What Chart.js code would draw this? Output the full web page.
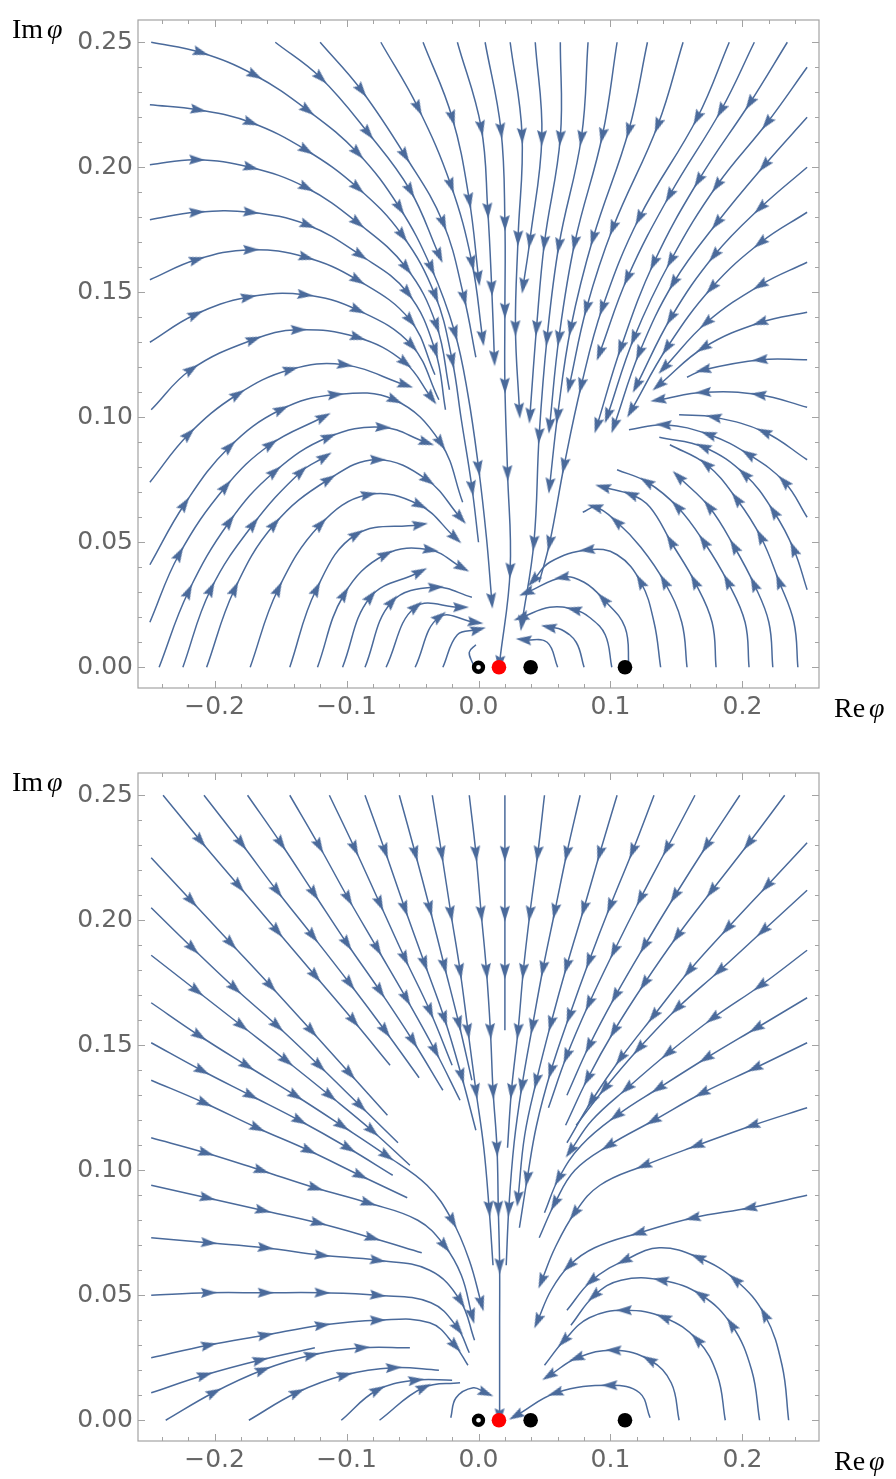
<!DOCTYPE html>
<html>
<head>
<meta charset="utf-8">
<script src="https://cdn.jsdelivr.net/npm/chart.js@4.4.1/dist/chart.umd.min.js"></script>
<style>
  html, body { margin: 0; padding: 0; background: #fff; }
  body { width: 896px; height: 1479px; position: relative; overflow: hidden; }
  canvas { position: absolute; left: 0; }
</style>
</head>
<body>
<canvas id="topChart" width="896" height="740" style="top:0"></canvas>
<canvas id="bottomChart" width="896" height="740" style="top:753px"></canvas>
<script>
// ---- axis ticks ----
const xMajor = [-0.2, -0.1, 0, 0.1, 0.2];
const xMinor = [-0.24, -0.22, -0.18, -0.16, -0.14, -0.12, -0.08, -0.06, -0.04, -0.02,
                0.02, 0.04, 0.06, 0.08, 0.12, 0.14, 0.16, 0.18, 0.22, 0.24];
const yMajor = [0, 0.05, 0.1, 0.15, 0.2, 0.25];
const yMinor = [0.01, 0.02, 0.03, 0.04, 0.06, 0.07, 0.08, 0.09, 0.11, 0.12, 0.13, 0.14,
                0.16, 0.17, 0.18, 0.19, 0.21, 0.22, 0.23, 0.24];

// ---- critical points on the real axis ----
const markerRe = [0, 0.0155, 0.0395, 0.111];
const markerIm = [0, 0, 0, 0];
const markerKind = ['open', 'red', 'black', 'black'];

// ---- top panel streamlines [Re φ, Im φ], in flow order ----
const topLines = [
  [[-0.248,0.250],[-0.211,0.246],[-0.170,0.237],[-0.130,0.223],[-0.092,0.206],[-0.060,0.184],[-0.036,0.160],[-0.018,0.134],[-0.008,0.109],[0.000,0.080],[0.006,0.052],[0.010,0.027]],
  [[-0.249,0.225],[-0.213,0.223],[-0.173,0.218],[-0.131,0.207],[-0.092,0.192],[-0.058,0.173],[-0.033,0.149],[-0.020,0.123],[-0.013,0.099],[-0.005,0.072],[0.000,0.050]],
  [[-0.249,0.201],[-0.214,0.203],[-0.173,0.200],[-0.131,0.192],[-0.092,0.178],[-0.055,0.160],[-0.032,0.137],[-0.022,0.111]],
  [[-0.249,0.179],[-0.214,0.182],[-0.173,0.182],[-0.130,0.177],[-0.090,0.165],[-0.054,0.150],[-0.033,0.127],[-0.025,0.103]],
  [[-0.249,0.155],[-0.214,0.163],[-0.173,0.167],[-0.131,0.164],[-0.092,0.155],[-0.052,0.139],[-0.033,0.117]],
  [[-0.249,0.130],[-0.215,0.141],[-0.175,0.148],[-0.132,0.149],[-0.092,0.143],[-0.051,0.129],[-0.030,0.107]],
  [[-0.248,0.103],[-0.218,0.119],[-0.171,0.131],[-0.137,0.135],[-0.092,0.132],[-0.056,0.122],[-0.036,0.108]],
  [[-0.249,0.074],[-0.220,0.093],[-0.183,0.109],[-0.143,0.119],[-0.102,0.121],[-0.056,0.113]],
  [[-0.249,0.041],[-0.223,0.065],[-0.189,0.088],[-0.150,0.103],[-0.109,0.109],[-0.064,0.107],[-0.029,0.090],[-0.012,0.066]],
  [[-0.249,0.018],[-0.227,0.045],[-0.192,0.072],[-0.158,0.089],[-0.118,0.100]],
  [[-0.242,0.000],[-0.220,0.030],[-0.189,0.058],[-0.155,0.078],[-0.114,0.092],[-0.073,0.096],[-0.040,0.090]],
  [[-0.224,0.000],[-0.203,0.031],[-0.171,0.057],[-0.135,0.078],[-0.117,0.084]],
  [[-0.206,0.000],[-0.185,0.031],[-0.155,0.057],[-0.114,0.075],[-0.077,0.083],[-0.039,0.075],[-0.014,0.060]],
  [[-0.173,0.000],[-0.152,0.031],[-0.120,0.057],[-0.084,0.069],[-0.045,0.065],[-0.018,0.052]],
  [[-0.143,0.000],[-0.123,0.031],[-0.093,0.053],[-0.045,0.057]],
  [[-0.122,0.000],[-0.102,0.029],[-0.071,0.045],[-0.037,0.047],[-0.013,0.040]],
  [[-0.103,0.000],[-0.082,0.028],[-0.045,0.038]],
  [[-0.086,0.000],[-0.066,0.026],[-0.033,0.032],[-0.005,0.028]],
  [[-0.070,0.000],[-0.048,0.024],[-0.014,0.024]],
  [[-0.048,0.000],[-0.030,0.020],[-0.003,0.018]],
  [[-0.027,0.000],[-0.016,0.013],[-0.001,0.015]],
  [[-0.004,0.001],[-0.007,0.006],[-0.002,0.009]],
  [[-0.154,0.250],[-0.120,0.236],[-0.084,0.214],[-0.052,0.191],[-0.030,0.165]],
  [[-0.120,0.250],[-0.089,0.231],[-0.056,0.205],[-0.027,0.178],[-0.011,0.148],[-0.002,0.124]],
  [[-0.074,0.250],[-0.046,0.224],[-0.021,0.193],[-0.005,0.162],[0.003,0.132]],
  [[-0.042,0.250],[-0.020,0.220],[-0.007,0.187],[0.000,0.156]],
  [[-0.016,0.250],[0.002,0.216],[0.007,0.183],[0.010,0.152],[0.012,0.124]],
  [[0.005,0.250],[0.017,0.215],[0.020,0.178],[0.020,0.143],[0.020,0.113],[0.022,0.078],[0.024,0.039],[0.016,0.002]],
  [[0.024,0.250],[0.033,0.213],[0.030,0.172],[0.028,0.136],[0.031,0.103]],
  [[0.043,0.250],[0.048,0.212],[0.039,0.171],[0.034,0.153]],
  [[0.062,0.250],[0.062,0.212],[0.050,0.170],[0.044,0.136],[0.039,0.101]],
  [[0.083,0.250],[0.078,0.212],[0.061,0.169],[0.052,0.132],[0.046,0.093],[0.042,0.050],[0.033,0.018]],
  [[0.105,0.250],[0.094,0.213],[0.073,0.170],[0.061,0.132],[0.054,0.097]],
  [[0.128,0.250],[0.114,0.215],[0.087,0.172],[0.070,0.136],[0.060,0.101],[0.054,0.073]],
  [[0.155,0.250],[0.136,0.217],[0.102,0.176],[0.082,0.144],[0.069,0.113]],
  [[0.190,0.250],[0.166,0.220],[0.122,0.180],[0.094,0.144],[0.078,0.113],[0.065,0.081],[0.054,0.050],[0.046,0.034]],
  [[0.209,0.250],[0.184,0.223],[0.145,0.189],[0.113,0.156],[0.092,0.126]],
  [[0.234,0.250],[0.206,0.226],[0.167,0.195],[0.133,0.162],[0.108,0.128],[0.090,0.097]],
  [[0.249,0.240],[0.219,0.218],[0.181,0.193],[0.146,0.163],[0.118,0.132],[0.098,0.101]],
  [[0.249,0.220],[0.217,0.201],[0.181,0.178],[0.148,0.154],[0.122,0.126],[0.103,0.097]],
  [[0.249,0.200],[0.214,0.184],[0.179,0.165],[0.146,0.140],[0.120,0.113]],
  [[0.249,0.182],[0.214,0.170],[0.177,0.152],[0.143,0.128],[0.116,0.103]],
  [[0.249,0.162],[0.214,0.153],[0.173,0.138],[0.141,0.120]],
  [[0.249,0.142],[0.214,0.138],[0.171,0.128],[0.137,0.113]],
  [[0.249,0.123],[0.214,0.123],[0.171,0.119],[0.158,0.116]],
  [[0.249,0.104],[0.213,0.109],[0.171,0.110],[0.137,0.107]],
  [[0.249,0.083],[0.217,0.094],[0.179,0.100],[0.152,0.101]],
  [[0.249,0.060],[0.232,0.074],[0.205,0.085],[0.175,0.093],[0.141,0.097],[0.114,0.095]],
  [[0.249,0.031],[0.239,0.047],[0.224,0.062],[0.202,0.077],[0.171,0.088],[0.137,0.092]],
  [[0.242,0.000],[0.239,0.018],[0.228,0.034],[0.214,0.052],[0.196,0.067],[0.173,0.081],[0.145,0.089]],
  [[0.223,0.000],[0.220,0.018],[0.209,0.033],[0.194,0.048],[0.175,0.064],[0.152,0.076]],
  [[0.205,0.000],[0.202,0.018],[0.189,0.034],[0.171,0.050],[0.151,0.064],[0.128,0.074],[0.105,0.079]],
  [[0.180,0.000],[0.177,0.018],[0.164,0.034],[0.146,0.050],[0.130,0.064],[0.116,0.069],[0.095,0.072]],
  [[0.158,0.000],[0.154,0.018],[0.141,0.034],[0.123,0.048],[0.105,0.058],[0.089,0.064],[0.079,0.062]],
  [[0.138,0.000],[0.133,0.018],[0.123,0.034],[0.105,0.045],[0.083,0.047],[0.054,0.042],[0.042,0.035]],
  [[0.114,0.000],[0.111,0.016],[0.095,0.027],[0.080,0.034],[0.064,0.036],[0.037,0.030]],
  [[0.101,0.000],[0.096,0.013],[0.084,0.020],[0.073,0.023],[0.054,0.024],[0.033,0.020]],
  [[0.080,0.000],[0.074,0.010],[0.063,0.015],[0.054,0.016]],
  [[0.060,0.000],[0.052,0.010],[0.035,0.011]]
];
const topArrows = [
  [1,2,3,4,5,6,7,9,11],[1,2,3,4,5,6,7,9],[1,2,3,4,5,6],[1,2,3,4,5,6],[1,2,3,4,5],[1,2,3,4,5],[1,2,3,4,5,6],[1,2,3,4,5],
  [1,2,3,4,5,6],[1,2,3,4],[1,2,3,4,5,6],[1,2,3,4],[1,2,3,4,5,6],[1,2,3,4,5],[1,2,3],[1,2,3,4],[1,2],[1,2],[1,2],[1,2],[2],[],
  [1,2,3,4],[1,2,3,4],[1,2,3,4],[1,2,3],[1,2,3,4],[1,2,3,4,5,6,7],[1,2,3,4],[1,2,3],[1,2,3,4],[1,2,3,4,5,6],[1,2,3,4],
  [1,2,3,4,5],[1,2,3,4],[1,2,3,4,5,6],[1,2,3,4],[1,2,3,4,5],
  [1,2,3,4,5],[1,2,3,4,5],[1,2,3,4],[1,2,3,4],[1,2,3],[1,2,3],
  [1,2],[1,2,3],[1,2],[1,2,3,4],[1,2,3,4],
  [2,3,4,5],[2,3,4,5],[2,3,4,5],[2,3,5,6],[2,4,5],[2,4,6],[2,4,5],[3,5],[3],[2]
];

// ---- bottom panel streamlines ----
const bottomLines = [
  [[-0.239,0.250],[-0.211,0.232],[-0.182,0.214],[-0.153,0.196],[-0.124,0.178],[-0.095,0.160],[-0.067,0.142]],
  [[-0.208,0.250],[-0.180,0.231],[-0.153,0.212],[-0.126,0.194],[-0.098,0.175],[-0.071,0.156],[-0.045,0.137]],
  [[-0.175,0.250],[-0.150,0.231],[-0.125,0.211],[-0.100,0.191],[-0.075,0.172],[-0.050,0.152],[-0.027,0.132]],
  [[-0.143,0.250],[-0.121,0.230],[-0.099,0.209],[-0.077,0.189],[-0.055,0.169],[-0.033,0.148],[-0.014,0.128]],
  [[-0.113,0.250],[-0.094,0.229],[-0.075,0.207],[-0.056,0.185],[-0.037,0.164],[-0.020,0.142]],
  [[-0.086,0.250],[-0.071,0.228],[-0.056,0.205],[-0.041,0.183],[-0.026,0.161],[-0.013,0.138],[-0.002,0.116]],
  [[-0.060,0.250],[-0.048,0.227],[-0.037,0.205],[-0.026,0.182],[-0.015,0.159],[-0.005,0.136]],
  [[-0.035,0.250],[-0.028,0.227],[-0.021,0.203],[-0.014,0.180],[-0.008,0.156],[-0.002,0.132],[0.004,0.109],[0.008,0.085],[0.011,0.062]],
  [[-0.007,0.250],[-0.002,0.227],[0.002,0.203],[0.006,0.180],[0.009,0.156],[0.011,0.132],[0.014,0.109],[0.015,0.085],[0.016,0.062],[0.016,0.038],[0.016,0.002]],
  [[0.020,0.250],[0.020,0.227],[0.020,0.203],[0.020,0.180],[0.020,0.156]],
  [[0.050,0.250],[0.045,0.227],[0.039,0.203],[0.034,0.180],[0.030,0.156],[0.025,0.132],[0.022,0.109]],
  [[0.077,0.250],[0.067,0.227],[0.058,0.204],[0.049,0.181],[0.041,0.158],[0.033,0.134],[0.027,0.111],[0.023,0.085],[0.021,0.062]],
  [[0.105,0.250],[0.092,0.227],[0.080,0.205],[0.067,0.182],[0.055,0.159],[0.044,0.136],[0.035,0.114],[0.030,0.089]],
  [[0.133,0.250],[0.117,0.228],[0.100,0.206],[0.084,0.184],[0.069,0.162],[0.055,0.140],[0.044,0.118],[0.037,0.097],[0.031,0.077]],
  [[0.164,0.250],[0.143,0.229],[0.123,0.209],[0.103,0.188],[0.084,0.167],[0.067,0.146],[0.053,0.125]],
  [[0.198,0.250],[0.173,0.230],[0.149,0.210],[0.126,0.190],[0.104,0.170],[0.084,0.150],[0.067,0.130]],
  [[0.232,0.250],[0.205,0.231],[0.177,0.212],[0.151,0.194],[0.126,0.175],[0.103,0.156],[0.083,0.137],[0.066,0.118]],
  [[0.249,0.231],[0.219,0.214],[0.189,0.197],[0.160,0.180],[0.133,0.162],[0.108,0.145],[0.086,0.128],[0.067,0.111]],
  [[0.249,0.212],[0.216,0.196],[0.183,0.180],[0.151,0.165],[0.122,0.149],[0.096,0.133],[0.074,0.118]],
  [[0.249,0.188],[0.214,0.174],[0.178,0.161],[0.144,0.147],[0.113,0.133],[0.086,0.120],[0.070,0.108]],
  [[0.249,0.169],[0.211,0.157],[0.173,0.145],[0.137,0.133],[0.105,0.122],[0.078,0.110],[0.061,0.097],[0.050,0.083]],
  [[0.249,0.151],[0.210,0.141],[0.170,0.131],[0.133,0.120],[0.099,0.110],[0.073,0.100],[0.058,0.087],[0.046,0.073]],
  [[0.249,0.125],[0.208,0.118],[0.166,0.110],[0.126,0.102],[0.092,0.094],[0.073,0.083],[0.058,0.069],[0.048,0.056]],
  [[0.249,0.090],[0.206,0.085],[0.163,0.081],[0.122,0.075],[0.088,0.069],[0.069,0.062],[0.055,0.052],[0.045,0.040]],
  [[0.235,0.000],[0.230,0.022],[0.217,0.042],[0.195,0.056],[0.167,0.065],[0.137,0.069],[0.111,0.064],[0.086,0.056],[0.067,0.044]],
  [[0.213,0.000],[0.207,0.020],[0.192,0.038],[0.169,0.050],[0.139,0.056],[0.108,0.056],[0.088,0.050],[0.070,0.038]],
  [[0.187,0.000],[0.181,0.018],[0.166,0.032],[0.141,0.041],[0.111,0.044],[0.084,0.041],[0.065,0.032],[0.050,0.022]],
  [[0.152,0.000],[0.146,0.015],[0.130,0.024],[0.103,0.028],[0.075,0.025],[0.054,0.018]],
  [[0.130,0.001],[0.122,0.011],[0.100,0.014],[0.059,0.011],[0.029,0.002]],
  [[-0.021,0.001],[-0.017,0.009],[-0.004,0.013],[0.005,0.011]],
  [[-0.248,0.225],[-0.218,0.208],[-0.188,0.191],[-0.158,0.174],[-0.127,0.156],[-0.098,0.139],[-0.069,0.122]],
  [[-0.248,0.205],[-0.217,0.189],[-0.185,0.173],[-0.153,0.158],[-0.121,0.142],[-0.090,0.126],[-0.061,0.111]],
  [[-0.248,0.186],[-0.214,0.172],[-0.180,0.158],[-0.146,0.144],[-0.113,0.130],[-0.081,0.116],[-0.052,0.102]],
  [[-0.248,0.167],[-0.212,0.154],[-0.176,0.142],[-0.139,0.130],[-0.104,0.118],[-0.070,0.106],[-0.039,0.094],[-0.020,0.080],[-0.007,0.064],[0.002,0.047]],
  [[-0.248,0.151],[-0.210,0.140],[-0.173,0.130],[-0.136,0.120],[-0.099,0.109],[-0.065,0.098]],
  [[-0.248,0.136],[-0.208,0.127],[-0.168,0.117],[-0.129,0.108],[-0.090,0.098],[-0.054,0.089]],
  [[-0.248,0.113],[-0.207,0.107],[-0.165,0.100],[-0.124,0.093],[-0.084,0.087],[-0.046,0.080],[-0.026,0.070],[-0.013,0.058],[-0.005,0.042]],
  [[-0.248,0.094],[-0.206,0.089],[-0.164,0.084],[-0.122,0.079],[-0.081,0.073],[-0.043,0.067]],
  [[-0.248,0.073],[-0.205,0.071],[-0.162,0.069],[-0.119,0.066],[-0.077,0.064],[-0.037,0.060],[-0.014,0.048],[-0.003,0.032]],
  [[-0.248,0.050],[-0.205,0.051],[-0.162,0.051],[-0.119,0.051],[-0.077,0.050],[-0.036,0.047],[-0.016,0.037],[-0.007,0.027]],
  [[-0.248,0.025],[-0.205,0.030],[-0.162,0.034],[-0.119,0.038],[-0.077,0.040],[-0.037,0.039],[-0.018,0.030],[-0.008,0.022]],
  [[-0.248,0.011],[-0.208,0.018],[-0.166,0.024],[-0.124,0.029]],
  [[-0.237,0.000],[-0.201,0.011],[-0.164,0.020],[-0.127,0.026],[-0.089,0.029],[-0.052,0.029]],
  [[-0.174,0.000],[-0.138,0.011],[-0.102,0.018],[-0.065,0.021],[-0.030,0.020]],
  [[-0.104,0.000],[-0.077,0.012],[-0.048,0.016],[-0.020,0.016]],
  [[-0.075,0.000],[-0.042,0.013],[-0.014,0.015]]
];
const bottomArrows = [
  [1,2,3,4,5],[1,2,3,4,5],[1,2,3,4,5],[1,2,3,4,5],[1,2,3,4],[1,2,3,4,5],[1,2,3,4],[1,2,3,4,5,7],
  [1,2,3,4,5,6,7,8,10],[1,2,3],[1,2,3,4,5],[1,2,3,4,5,7],[1,2,3,4,5,7],[1,2,3,4,5,7],[1,2,3,4,5],[1,2,3,4,5],[1,2,3,4,5,6],
  [1,2,3,4,5,6],[1,2,3,4,5],[1,2,3,4,6],[1,2,3,4,6],[1,2,3,4,6],[1,2,3,5,7],[1,2,3,5,7],
  [2,3,4,6,7],[2,3,4,6],[2,3,4,6],[2,3,4,5],[2,3,4],[3],
  [1,2,3,4,5],[1,2,3,4,5],[1,2,3,4,5],[1,2,3,4,5,7,9],[1,2,3,4],[1,2,3,4],[1,2,3,4,6,8],[1,2,3,4],[1,2,3,4,6],[1,2,3,4,6],[1,2,3,4,6],[1,2],
  [1,2,3,4],[1,2,3],[1,2],[1]
];

// ---- styles ----
const streamColor = '#4a6a9b';
const frameColor = '#a3a3a3';
const tickColor = '#666666';

// arrowhead image, pointing to +x, centred
const arrowImg = document.createElement('canvas');
arrowImg.width = 28; arrowImg.height = 28;
(function () {
  const c = arrowImg.getContext('2d');
  c.fillStyle = streamColor;
  c.beginPath();
  c.moveTo(14 + 9, 14);
  c.lineTo(14 - 7, 14 - 5);
  c.lineTo(14 - 4.5, 14);
  c.lineTo(14 - 7, 14 + 5);
  c.closePath();
  c.fill();
})();

function arrowAngle(c) {
  const d = c.dataset.data, i = c.dataIndex;
  const xs = c.chart.scales.x, ys = c.chart.scales.y;
  const a = d[Math.max(i - 1, 0)], b = d[Math.min(i + 1, d.length - 1)];
  const dx = xs.getPixelForValue(b.x) - xs.getPixelForValue(a.x);
  const dy = ys.getPixelForValue(b.y) - ys.getPixelForValue(a.y);
  return Math.atan2(dy, dx) * 180 / Math.PI;
}

const fmtX = v => (v < 0 ? '\u2212' : '') + Math.abs(v).toFixed(1);
const fmtY = v => v.toFixed(2);

const framePlugin = {
  id: 'frame',
  beforeDatasetsDraw(chart) {
    const { ctx, chartArea: a, scales: { x, y } } = chart;
    ctx.save();
    ctx.strokeStyle = frameColor;
    ctx.lineWidth = 1.2;
    ctx.strokeRect(a.left, a.top, a.right - a.left, a.bottom - a.top);
    ctx.lineWidth = 1;
    ctx.beginPath();
    const xt = (v, len) => {
      const p = Math.round(x.getPixelForValue(v)) + 0.5;
      ctx.moveTo(p, a.bottom); ctx.lineTo(p, a.bottom - len);
      ctx.moveTo(p, a.top); ctx.lineTo(p, a.top + len);
    };
    const yt = (v, len) => {
      const p = Math.round(y.getPixelForValue(v)) + 0.5;
      ctx.moveTo(a.left, p); ctx.lineTo(a.left + len, p);
      ctx.moveTo(a.right, p); ctx.lineTo(a.right - len, p);
    };
    xMajor.forEach(v => xt(v, 7)); xMinor.forEach(v => xt(v, 4));
    yMajor.forEach(v => yt(v, 7)); yMinor.forEach(v => yt(v, 4));
    ctx.stroke();
    ctx.restore();
  },
  afterDraw(chart) {
    const ctx = chart.ctx;
    ctx.save();
    ctx.fillStyle = '#000';
    ctx.textBaseline = 'alphabetic';
    const label = (txt, x0, base) => {
      ctx.font = '28px "Liberation Serif"';
      ctx.fillText(txt, x0, base);
      const w = ctx.measureText(txt + ' ').width;
      ctx.font = 'italic 28px "Liberation Serif"';
      ctx.fillText('\u03c6', x0 + w - 3, base);
    };
    label('Im', 12, 38);
    label('Re', 834, 717);
    ctx.restore();
  }
};

function makeChart(id, lines, arrows) {
  const datasets = lines.map((pts, i) => ({
    data: pts.map(p => ({ x: p[0], y: p[1] })),
    borderColor: streamColor,
    borderWidth: 1.5,
    tension: 0.4,
    fill: false,
    pointStyle: arrowImg,
    pointRadius: c => (arrows[i].includes(c.dataIndex) ? 6 : 0),
    pointRotation: arrowAngle,
    pointHitRadius: 0,
    order: 1
  }));
  markerRe.forEach((re, k) => {
    const kind = markerKind[k];
    datasets.push({
      data: [{ x: re, y: markerIm[k] }],
      showLine: false,
      pointStyle: 'circle',
      pointRadius: kind === 'open' ? 4.5 : 7.3,
      pointBorderWidth: kind === 'open' ? 4.3 : 0,
      pointBorderColor: '#000',
      pointBackgroundColor: kind === 'open' ? '#fff' : (kind === 'red' ? '#ff0000' : '#000'),
      order: -1
    });
  });
  return new Chart(document.getElementById(id), {
    type: 'line',
    data: { datasets },
    plugins: [framePlugin],
    options: {
      responsive: false,
      animation: false,
      devicePixelRatio: 1,
      events: [],
      layout: { padding: { left: 0, right: 77, top: 7, bottom: 0 } },
      plugins: { legend: { display: false }, tooltip: { enabled: false } },
      scales: {
        x: {
          type: 'linear', min: -0.258, max: 0.258,
          grid: { display: false, drawTicks: false },
          border: { display: false },
          afterBuildTicks: s => { s.ticks = xMajor.map(v => ({ value: v })); },
          afterFit: s => { s.height = 52; },
          ticks: { padding: 4, color: tickColor, font: { family: 'DejaVu Sans', size: 25 },
                   maxRotation: 0, autoSkip: false, callback: v => fmtX(v) }
        },
        y: {
          type: 'linear', min: -0.0083, max: 0.2589,
          grid: { display: false, drawTicks: false },
          border: { display: false },
          afterBuildTicks: s => { s.ticks = yMajor.map(v => ({ value: v })); },
          afterFit: s => { s.width = 138; },
          ticks: { padding: 5, color: tickColor, font: { family: 'DejaVu Sans', size: 25 },
                   autoSkip: false, callback: v => fmtY(v) }
        }
      }
    }
  });
}

makeChart('topChart', topLines, topArrows);
makeChart('bottomChart', bottomLines, bottomArrows);
</script>
</body>
</html>
